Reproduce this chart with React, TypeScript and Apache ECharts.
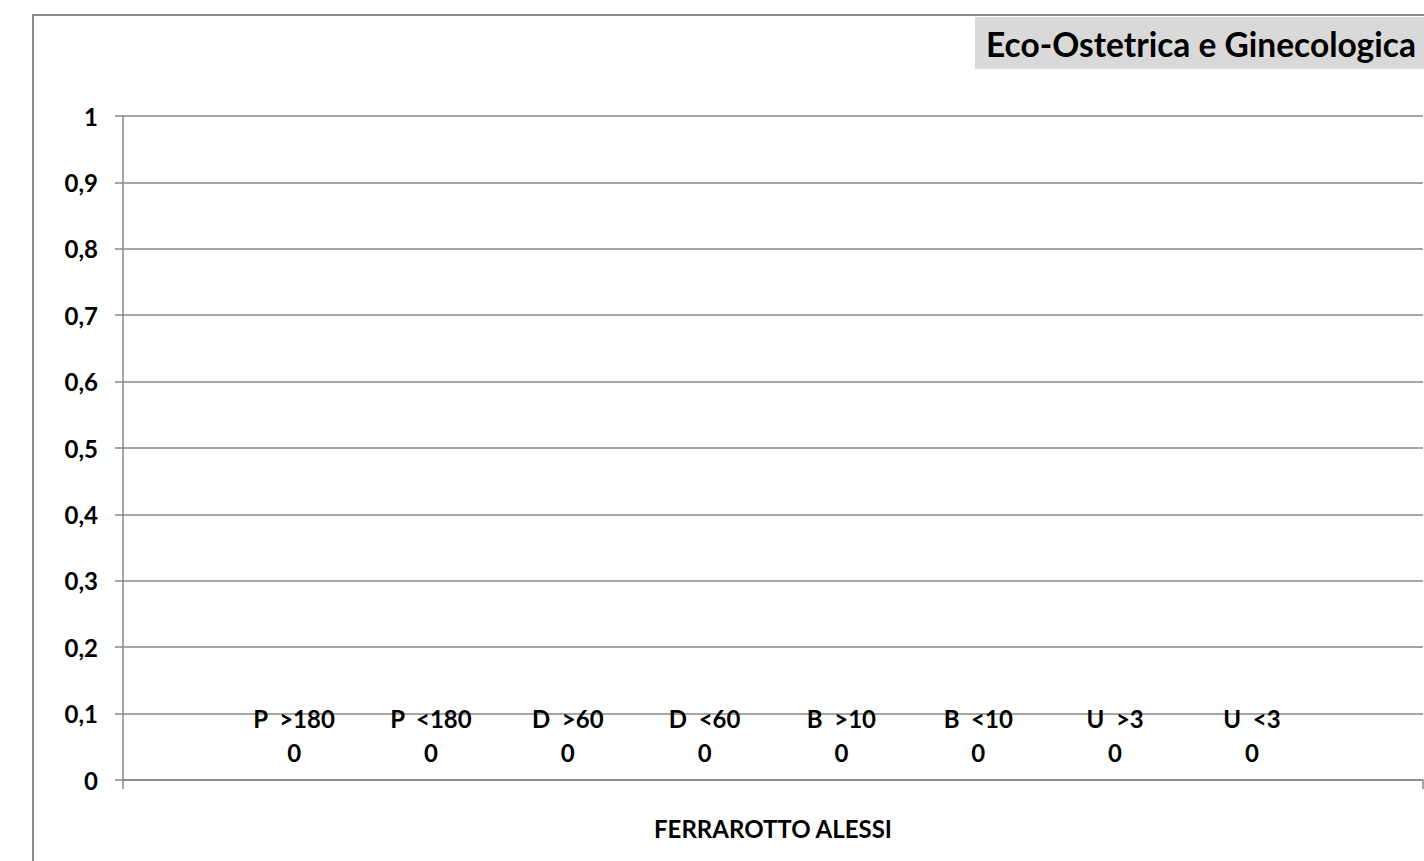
import React, { useEffect, useRef } from "react";
import * as echarts from "echarts";

const categories = ["FERRAROTTO ALESSI"];
const seriesNames = ["P  >180", "P  <180", "D  >60", "D  <60", "B  >10", "B  <10", "U  >3", "U  <3"];
const seriesValues = [[0], [0], [0], [0], [0], [0], [0], [0]];
const seriesColors = ["#4f81bd", "#c0504d", "#9bbb59", "#8064a2", "#4bacc6", "#f79646", "#2c4d75", "#772c2a"];
const titleText = "Eco-Ostetrica e Ginecologica";

const FONT = "Lato, 'Open Sans', sans-serif";

export default function App() {
  const ref = useRef<HTMLDivElement>(null);
  useEffect(() => {
    if (!ref.current) return;
    const chart = echarts.init(ref.current, undefined, { renderer: "svg" });
    chart.setOption({
      animation: false,
      backgroundColor: "#ffffff",
      textStyle: { fontFamily: FONT },
      grid: { left: 123, top: 116, right: 1, bottom: 81, containLabel: false },
      xAxis: {
        type: "category",
        data: categories,
        boundaryGap: true,
        axisLine: { show: true, lineStyle: { color: "#878787", width: 1.5 } },
        axisTick: { show: true, length: 9, lineStyle: { color: "#878787", width: 1.5 } },
        axisLabel: { color: "#000", fontWeight: "bold", fontSize: 24, fontFamily: FONT, margin: 36 },
        splitLine: { show: false },
      },
      yAxis: {
        type: "value",
        min: 0,
        max: 1,
        interval: 0.1,
        axisLine: { show: true, lineStyle: { color: "#878787", width: 1.5 } },
        axisTick: { show: true, length: 8, lineStyle: { color: "#878787", width: 1.5 } },
        axisLabel: {
          color: "#000",
          fontWeight: "bold",
          fontSize: 24,
          fontFamily: FONT,
          margin: 25,
          formatter: (v: number) => String(+v.toFixed(1)).replace(".", ","),
        },
        splitLine: { show: true, lineStyle: { color: "#878787", width: 1.5 } },
      },
      series: seriesNames.map((name, i) => ({
        type: "bar",
        name,
        data: seriesValues[i],
        barGap: "0%",
        barCategoryGap: "15.8%",
        itemStyle: { color: seriesColors[i] },
        label: {
          show: true,
          position: "top",
          distance: 11,
          formatter: "{a}\n{c}",
          color: "#000",
          fontWeight: "bold",
          fontSize: 24,
          fontFamily: FONT,
          lineHeight: 34,
          align: "center",
        },
      })),
      graphic: [
        {
          type: "rect",
          z: -10,
          silent: true,
          shape: { x: 33, y: 15, width: 1500, height: 1000 },
          style: { fill: "none", stroke: "#8c8c8c", lineWidth: 2 },
        },
        {
          type: "rect",
          silent: true,
          shape: { x: 975, y: 17, width: 460, height: 52 },
          style: { fill: "#d9d9d9" },
        },
        {
          type: "text",
          silent: true,
          x: 986,
          y: 44,
          style: {
            text: titleText,
            fill: "#000",
            font: `bold 33.5px ${FONT}`,
            textVerticalAlign: "middle",
            verticalAlign: "middle",
          },
        },
      ],
    });
    return () => chart.dispose();
  }, []);
  return (
    <div
      ref={ref}
      style={{ position: "absolute", left: 0, top: 0, width: 1424, height: 861 }}
    />
  );
}
